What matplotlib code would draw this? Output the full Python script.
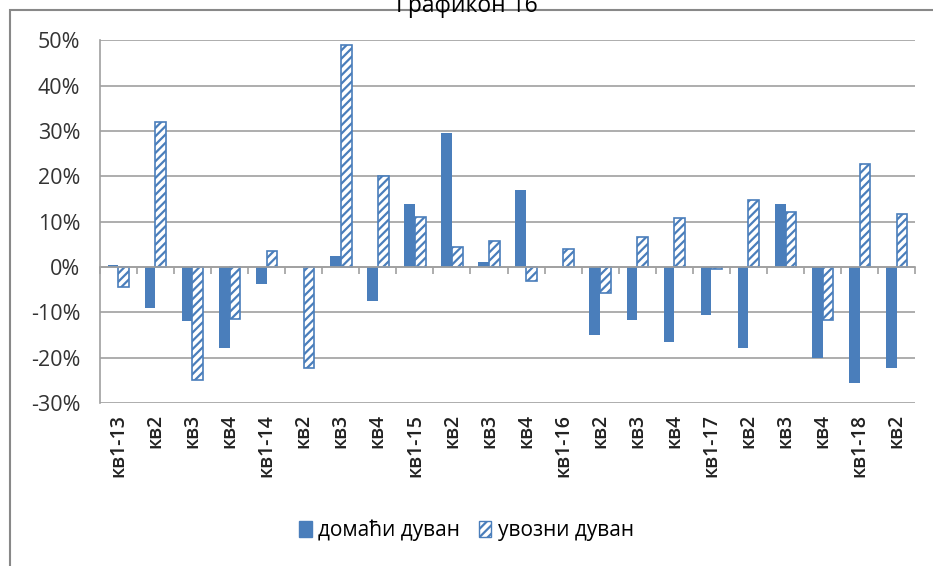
import numpy as np
import matplotlib
matplotlib.use("Agg")
import matplotlib.pyplot as plt
from matplotlib.patches import Patch, Rectangle
from matplotlib.ticker import PercentFormatter

# data
quarters = ["кв1-13", "кв2", "кв3", "кв4",
            "кв1-14", "кв2", "кв3", "кв4",
            "кв1-15", "кв2", "кв3", "кв4",
            "кв1-16", "кв2", "кв3", "кв4",
            "кв1-17", "кв2", "кв3", "кв4",
            "кв1-18", "кв2"]
domestic = [0.5, -9.0, -12.0, -17.8,
            -3.7, 0.0, 2.5, -7.5,
            13.8, 29.5, 1.0, 17.0,
            0.0, -15.0, -11.8, -16.5,
            -10.5, -17.8, 13.8, -20.0,
            -25.5, -22.2]
imported = [-4.5, 31.9, -25.0, -11.5,
            3.5, -22.3, 49.0, 20.0,
            11.0, 4.5, 5.7, -3.2,
            4.0, -5.8, 6.5, 10.7,
            -0.5, 14.7, 12.2, -11.8,
            22.7, 11.7]
series_names = ["домаћи дуван", "увозни дуван"]
title = "Графикон 16"

BLUE = "#4a7ebb"
GRID = "#a0a0a0"

plt.rcParams["font.family"] = ["Open Sans", "DejaVu Sans"]
plt.rcParams["hatch.linewidth"] = 1.6
plt.rcParams["axes.unicode_minus"] = False

fig = plt.figure(figsize=(9.33, 5.66), dpi=100)
ax = fig.add_axes([0.107, 0.288, 0.874, 0.641])

x = np.arange(len(quarters))
w = 0.29
ax.bar(x - w / 2, domestic, w, color=BLUE, zorder=3)
ax.bar(x + w / 2, imported, w, facecolor="white", edgecolor=BLUE,
       hatch="////", linewidth=1.2, zorder=3)

ax.set_xlim(-0.5, len(quarters) - 0.5)
ax.set_ylim(-30, 50)
ax.set_yticks(np.arange(-30, 51, 10))
ax.yaxis.set_major_formatter(PercentFormatter(decimals=0))
ax.tick_params(axis="y", length=0, labelsize=15.5, colors="#333333", pad=14)
ax.grid(axis="y", color=GRID, linewidth=1.2, zorder=0)

for s in ["top", "right"]:
    ax.spines[s].set_visible(False)
ax.spines["left"].set_color(GRID)
ax.spines["left"].set_linewidth(1.2)
ax.spines["bottom"].set_position(("data", 0))
ax.spines["bottom"].set_color(GRID)
ax.spines["bottom"].set_linewidth(1.2)
ax.spines["bottom"].set_zorder(4)

# boundary ticks on the zero line
ax.set_xticks(np.arange(len(quarters) + 1) - 0.5)
ax.set_xticklabels([])
ax.tick_params(axis="x", direction="out", length=5, color=GRID, width=1.2)

# category labels below the plot
sec = ax.secondary_xaxis("bottom")
sec.set_xticks(x)
sec.set_xticklabels(quarters, rotation=90, fontsize=14, fontweight="semibold",
                    color="#222222")
sec.tick_params(length=0, pad=8)
sec.spines["bottom"].set_visible(False)

handles = [Patch(facecolor=BLUE, edgecolor=BLUE),
           Patch(facecolor="white", edgecolor=BLUE, hatch="////")]
fig.legend(handles, series_names, loc="center", bbox_to_anchor=(0.5, 0.063),
           ncol=2, frameon=False, fontsize=15, handlelength=0.6,
           handleheight=0.8, handletextpad=0.3, columnspacing=0.9)

# outer chart border and title above it (clipped at the top like the source)
fig.patches.append(Rectangle((10 / 933, -0.01), 0.995, 1 - 10 / 566 + 0.01,
                             transform=fig.transFigure, fill=False,
                             edgecolor="#888888", linewidth=1.5))
fig.text(0.5, 1 - 12 / 566, title, ha="center", va="baseline", fontsize=16.5)

fig.savefig("out.png", dpi=100)
